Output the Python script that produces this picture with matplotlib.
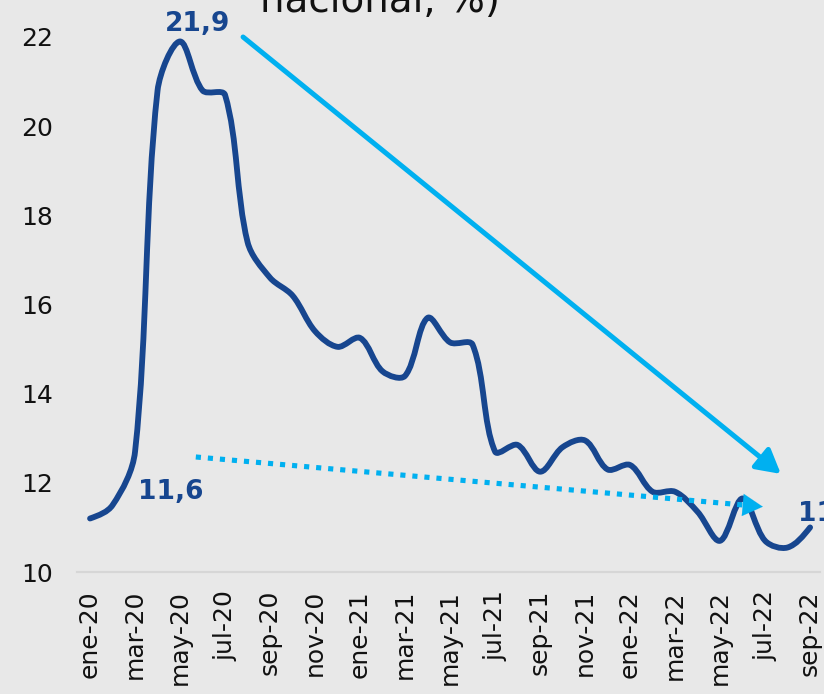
import numpy as np
import matplotlib
matplotlib.use("Agg")
import matplotlib.pyplot as plt
from matplotlib.path import Path
from matplotlib.patches import PathPatch

# ---- data ----
months = ["ene-20", "feb-20", "mar-20", "abr-20", "may-20", "jun-20", "jul-20", "ago-20",
          "sep-20", "oct-20", "nov-20", "dic-20", "ene-21", "feb-21", "mar-21", "abr-21",
          "may-21", "jun-21", "jul-21", "ago-21", "sep-21", "oct-21", "nov-21", "dic-21",
          "ene-22", "feb-22", "mar-22", "abr-22", "may-22", "jun-22", "jul-22", "ago-22",
          "sep-22"]
values = [11.2, 11.5, 12.7, 20.8, 21.9, 20.8, 20.7, 17.4,
          16.6, 16.2, 15.4, 15.05, 15.25, 14.5, 14.4, 15.7,
          15.15, 15.1, 12.7, 12.85, 12.25, 12.8, 12.95, 12.3,
          12.4, 11.8, 11.8, 11.35, 10.7, 11.65, 10.7, 10.55,
          11.0]
yticks = [10, 12, 14, 16, 18, 20, 22]
title_text = "nacional, %)"

# annotations
label_peak = "21,9"
label_low = "11,6"
label_last = "11,0"
solid_arrow = [(6.8, 22.0), (30.7, 12.2)]
dotted_arrow = [(4.7, 12.58), (29.55, 11.48)]

LINE = "#17468f"
ARROW = "#00b0f0"
BG = "#e8e8e8"

fig = plt.figure(figsize=(8.24, 6.94), dpi=100, facecolor=BG)
ax = fig.add_axes([77/824, (694-572)/694, (820-77)/824, (572-37)/694])
ax.set_facecolor("none")
ax.set_xlim(-0.58, 32.44)
ax.set_ylim(10, 22)

x = np.arange(len(values), dtype=float)
y = np.array(values, dtype=float)

# smoothed line: Bezier segments with length-proportional control points
sx = 22.5   # px per month
sy = 44.6   # px per unit
P = np.column_stack([x, y])
n = len(P)
t = 1.0 / 3.0
cin = P.copy()
cout = P.copy()
for i in range(1, n - 1):
    d01 = np.hypot((P[i, 0] - P[i-1, 0]) * sx, (P[i, 1] - P[i-1, 1]) * sy)
    d12 = np.hypot((P[i+1, 0] - P[i, 0]) * sx, (P[i+1, 1] - P[i, 1]) * sy)
    tan = P[i+1] - P[i-1]
    fa = t * d01 / (d01 + d12)
    fb = t * d12 / (d01 + d12)
    cin[i] = P[i] - fa * tan
    cout[i] = P[i] + fb * tan
verts = [tuple(P[0])]
codes = [Path.MOVETO]
for i in range(n - 1):
    c1 = cout[i] if i > 0 else P[0] + (cin[1] - P[0]) * 0.5
    c2 = cin[i+1] if i + 1 < n - 1 else P[-1] + (cout[-2] - P[-1]) * 0.5
    verts += [tuple(c1), tuple(c2), tuple(P[i+1])]
    codes += [Path.CURVE4] * 3
ax.add_patch(PathPatch(Path(verts, codes), facecolor="none", edgecolor=LINE, lw=4.2,
                       capstyle="round", joinstyle="round", zorder=3))

ax.set_xticks(x[::2])
ax.set_xticklabels(months[::2], rotation=90, fontsize=18, color="#111111")
ax.set_yticks(yticks)
ax.set_yticklabels([str(v) for v in yticks], fontsize=18, color="#111111")
ax.tick_params(axis="x", length=0, pad=13)
ax.tick_params(axis="y", length=0, pad=17)

for s in ["top", "right", "left"]:
    ax.spines[s].set_visible(False)
ax.spines["bottom"].set_color("#d6d6d6")
ax.spines["bottom"].set_linewidth(1.6)

head = "-|>,head_length=0.9,head_width=0.5"

# solid arrow
ax.annotate("", xy=solid_arrow[1], xytext=solid_arrow[0],
            arrowprops=dict(arrowstyle=head, mutation_scale=16,
                            color=ARROW, lw=3.6, shrinkA=0, shrinkB=0),
            annotation_clip=False, zorder=4)

# dotted arrow: dotted body + solid head
ax.plot([dotted_arrow[0][0], dotted_arrow[1][0]], [dotted_arrow[0][1], dotted_arrow[1][1]],
        color=ARROW, lw=3.7, linestyle=(0, (1.0, 1.35)),
        dash_capstyle="butt", zorder=4)
dx = dotted_arrow[1][0] - dotted_arrow[0][0]
dy = dotted_arrow[1][1] - dotted_arrow[0][1]
ax.annotate("", xy=(dotted_arrow[1][0] + 0.35, dotted_arrow[1][1] + dy / dx * 0.35),
            xytext=(dotted_arrow[1][0] - 0.3, dotted_arrow[1][1] - dy / dx * 0.3),
            arrowprops=dict(arrowstyle=head, mutation_scale=16,
                            color=ARROW, lw=0.1, shrinkA=0, shrinkB=0),
            annotation_clip=False, zorder=4)

# labels
ax.text(4.76, 22.29, label_peak, color=LINE, fontsize=19, fontweight="bold",
        ha="center", va="center", clip_on=False)
ax.text(3.6, 11.79, label_low, color=LINE, fontsize=19, fontweight="bold",
        ha="center", va="center", clip_on=False)
ax.text(31.47, 11.3, label_last, color=LINE, fontsize=19, fontweight="bold",
        ha="left", va="center", clip_on=False)

# cut-off title at top
fig.text(260/824, 1 - 12/694, title_text, fontsize=28, color="#111111",
         ha="left", va="baseline")

fig.savefig("out.png", dpi=100, facecolor=BG)
